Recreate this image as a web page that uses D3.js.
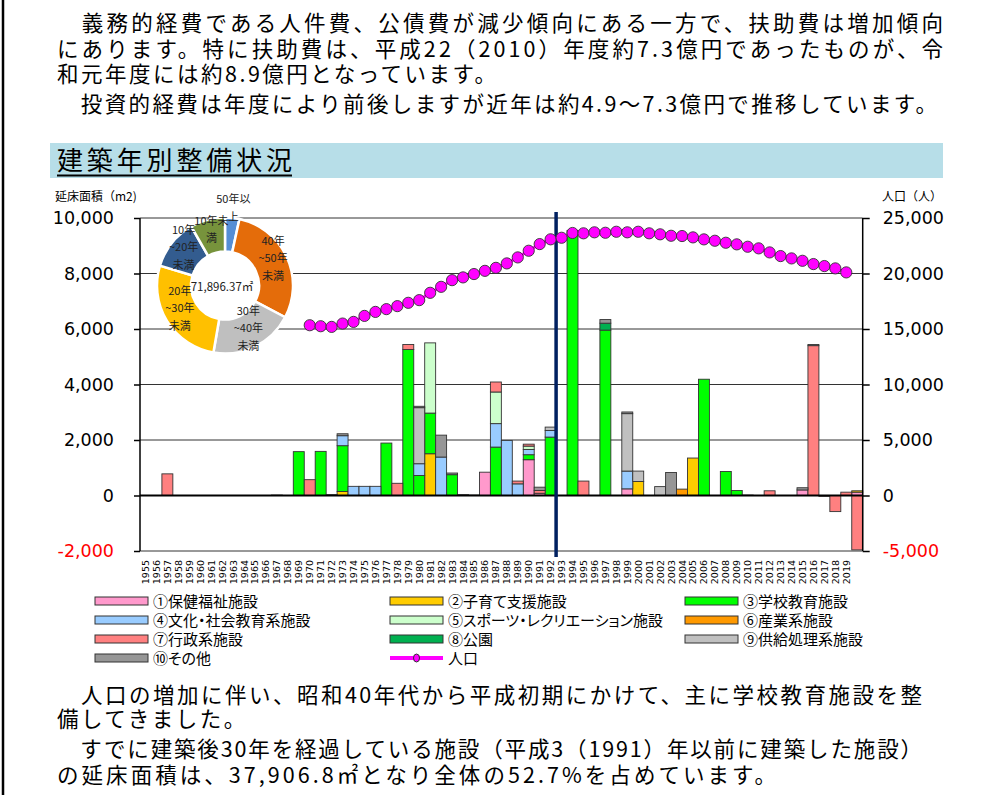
<!DOCTYPE html>
<html>
<head>
<meta charset="utf-8">
<script src="https://cdn.jsdelivr.net/npm/d3@7"></script>
<style>
  body { margin: 0; background: #fff; }
  svg text { font-family: "Noto Sans CJK JP", "Noto Sans", sans-serif; }
  .num { font-family: "DejaVu Sans", Verdana, sans-serif !important; }
  .prop { font-feature-settings: "palt"; }
</style>
</head>
<body>
<svg id="svg" width="985" height="795"></svg>
<script>
// ---- data ----
const categories = ["1955","1956","1957","1958","1959","1960","1961","1962","1963","1964",
  "1965","1966","1967","1968","1969","1970","1971","1972","1973","1974",
  "1975","1976","1977","1978","1979","1980","1981","1982","1983","1984",
  "1985","1986","1987","1988","1989","1990","1991","1992","1993","1994",
  "1995","1996","1997","1998","1999","2000","2001","2002","2003","2004",
  "2005","2006","2007","2008","2009","2010","2011","2012","2013","2014",
  "2015","2016","2017","2018","2019",""];

const seriesNames = ["①保健福祉施設","②子育て支援施設","③学校教育施設","④文化・社会教育系施設",
  "⑤スポーツ・レクリエーション施設","⑥産業系施設","⑦行政系施設","⑧公園","⑨供給処理系施設","⑩その他"];
const seriesColors = ["#FF99CC","#FFCC00","#00FF00","#99CCFF","#CCFFCC","#FF9900","#FF8080","#00B050","#C0C0C0","#969696"];

const s01 = [0,0,0,0,0,0,0,0,0,0, 0,0,0,0,0,0,0,0,0,0, 0,0,0,0,0,0,0,0,0,0,
  0,840,0,0,0,1290,80,0,0,0, 0,0,0,0,240,0,0,0,0,0, 0,0,0,0,0,0,0,0,0,0, 200,0,0,0,0,120];
const s02 = [0,0,0,0,0,0,0,0,0,0, 0,0,0,0,0,0,0,0,145,0, 0,0,0,0,0,0,1505,0,0,0,
  0,0,0,0,0,0,0,0,0,0, 0,0,0,0,0,505,0,0,0,0, 1350,0,0,0,0,0,0,0,0,0, 0,0,0,0,0,50];
const s03 = [0,0,0,0,0,0,0,0,0,0, 0,0,0,0,1580,0,1590,0,1650,0, 0,0,1890,0,5260,720,1465,0,750,0,
  0,0,1745,0,0,180,0,2105,0,9550, 0,0,5960,0,0,0,0,0,0,0, 0,4190,0,865,180,0,0,0,0,0, 0,0,0,0,0,0];
const s04 = [0,0,0,0,0,0,0,0,0,0, 0,0,0,0,0,0,0,0,360,330, 330,330,0,0,0,425,0,1385,0,0,
  0,0,845,1985,420,190,0,240,0,0, 0,0,0,0,640,0,0,0,0,0, 0,0,0,0,0,0,0,0,0,0, 0,0,0,0,0,0];
const s05 = [0,0,0,0,0,0,0,0,0,0, 0,0,0,0,0,0,0,0,0,0, 0,0,0,0,0,0,2530,0,0,0,
  0,0,1140,0,0,120,0,0,0,0, 0,0,0,0,0,0,0,0,0,0, 0,0,0,0,0,0,0,0,0,0, 0,0,0,0,0,0];
const s06 = [0,0,0,0,0,0,0,0,0,0, 0,0,0,0,0,0,0,0,0,0, 0,0,0,0,0,0,0,0,0,0,
  0,0,0,0,0,0,0,0,0,0, 0,0,0,0,0,0,0,0,0,230, 0,0,0,0,0,0,0,0,0,0, 0,0,0,0,0,0];
const s07 = [0,0,780,0,0,0,0,0,0,0, 0,0,0,0,0,570,0,0,0,0, 0,0,0,440,180,0,0,0,0,0,
  0,0,360,0,100,70,100,0,0,0, 520,0,0,0,0,0,0,0,0,0, 0,0,0,0,0,0,0,170,0,0, 0,5400,-30,-580,120,-1960];
const s08 = [0,0,0,0,0,0,0,0,0,0, 0,0,0,0,0,0,0,0,0,0, 0,0,0,0,0,0,0,0,0,0,
  0,0,0,0,0,0,0,0,0,0, 0,0,250,0,0,0,0,0,0,0, 0,0,0,0,0,0,0,0,0,0, 0,0,0,0,0,0];
const s09 = [0,0,0,0,0,0,0,0,0,0, 0,0,0,0,0,0,0,0,0,0, 0,0,0,0,0,2020,0,0,0,0,
  15,0,0,0,0,0,0,120,0,0, 0,0,0,0,2070,375,0,320,0,0, 0,0,0,0,0,15,0,0,0,0, 0,0,0,0,0,0];
const s10 = [0,0,0,0,0,0,0,0,0,0, 0,0,15,0,0,0,0,30,70,0, 0,0,0,0,0,50,0,790,60,30,
  0,0,0,0,0,0,120,0,0,0, 0,0,130,0,60,0,0,0,830,0, 0,0,0,0,0,0,0,0,0,0, 80,40,0,0,0,0];
const seriesValues = [s01,s02,s03,s04,s05,s06,s07,s08,s09,s10];

const popYears = categories.slice(15, 65); // 1970-2019
const population = [15340,15250,15190,15490,15640,16180,16540,16790,17060,17360,
  17600,18260,18800,19400,19650,19950,20240,20510,20910,21450,
  22050,22650,23080,23220,23650,23620,23710,23670,23760,23710,
  23760,23620,23530,23400,23375,23255,23075,22950,22770,22625,
  22410,22265,21900,21570,21360,21145,20850,20670,20460,20100];
const popName = "人口";

const leftTicks = [-2000,0,2000,4000,6000,8000,10000];
const rightTicks = [-5000,0,5000,10000,15000,20000,25000];
const dividerAfter = "1992";

const ageClasses = ["50年以上","40年~50年未満","30年~40年未満","20年~30年未満","10年~20年未満","10年未満"];
const ageLabelLines = [["50年以","上"],["40年","~50年","未満"],["30年","~40年","未満"],["20年","~30年","未満"],["10年","~20年","未満"],["10年未","満"]];
const ageArea = [2450,21080,14377,19410,8630,5950];
const ageColors = ["#558ED5","#E46C0A","#BFBFBF","#FFC000","#335C8F","#77933C"];
const totalAreaLabel = "71,896.37㎡";

const topText = [
  "　義務的経費である人件費、公債費が減少傾向にある一方で、扶助費は増加傾向",
  "にあります。特に扶助費は、平成22（2010）年度約7.3億円であったものが、令",
  "和元年度には約8.9億円となっています。",
  "　投資的経費は年度により前後しますが近年は約4.9～7.3億円で推移しています。"];
const bottomText = [
  "　人口の増加に伴い、昭和40年代から平成初期にかけて、主に学校教育施設を整",
  "備してきました。",
  "　すでに建築後30年を経過している施設（平成3（1991）年以前に建築した施設）",
  "の延床面積は、37,906.8㎡となり全体の52.7%を占めています。"];
const titleText = "建築年別整備状況";

// ---- layout ----
const svg = d3.select("#svg");
const plot = {left: 140, right: 862.7, top: 218, bottom: 551};
const fmt = d => d3.format(",")(d).replace("\u2212", "-");

// page border
svg.append("line").attr("x1", 3).attr("x2", 3).attr("y1", 0).attr("y2", 795)
  .attr("stroke", "#000").attr("stroke-width", 2.5);

// paragraph text
function writeLines(lines, ys, lengths) {
  lines.forEach((t, i) => {
    const el = svg.append("text").attr("x", 57).attr("y", ys[i])
      .attr("font-size", 21.5).attr("fill", "#000").text(t);
    if (lengths[i]) el.attr("textLength", lengths[i]).attr("lengthAdjust", "spacing");
    else el.attr("letter-spacing", 2.5);
  });
}
writeLines(topText, [31, 57, 82, 112], [886, 886, 0, 880]);
writeLines(bottomText, [703, 727, 757, 783], [865, 0, 865, 719]);

// title bar
svg.append("rect").attr("x", 50).attr("y", 143).attr("width", 893).attr("height", 35).attr("fill", "#B7DEE8");
svg.append("text").attr("x", 57).attr("y", 170).attr("font-size", 26)
  .attr("textLength", 235).attr("lengthAdjust", "spacing").text(titleText);
svg.append("line").attr("x1", 57).attr("x2", 292).attr("y1", 175.5).attr("y2", 175.5)
  .attr("stroke", "#000").attr("stroke-width", 2);

// scales
const x = d3.scaleBand().domain(categories).range([plot.left, plot.right]).padding(0);
const yL = d3.scaleLinear().domain([-2000, 10000]).range([plot.bottom, plot.top]);
const yR = d3.scaleLinear().domain([-5000, 25000]).range([plot.bottom, plot.top]);

// gridlines
svg.append("g").selectAll("line").data(leftTicks.filter(d => d !== 0)).join("line")
  .attr("x1", plot.left).attr("x2", plot.right)
  .attr("y1", d => yL(d)).attr("y2", d => yL(d))
  .attr("stroke", "#333").attr("stroke-width", 1);

// stacked bars
const rows = categories.map((c, i) => {
  const o = {cat: c};
  seriesNames.forEach((n, k) => o[n] = seriesValues[k][i]);
  return o;
});
const stacked = d3.stack().keys(seriesNames).offset(d3.stackOffsetDiverging)(rows);
const barG = svg.append("g");
stacked.forEach((layer, k) => {
  barG.append("g").attr("fill", seriesColors[k])
    .selectAll("rect").data(layer.filter(d => d[1] - d[0] !== 0)).join("rect")
    .attr("x", d => x(d.data.cat))
    .attr("width", x.bandwidth())
    .attr("y", d => yL(Math.max(d[0], d[1])))
    .attr("height", d => Math.abs(yL(d[0]) - yL(d[1])))
    .attr("stroke", "#333").attr("stroke-width", 0.9);
});

// zero line
svg.append("line").attr("x1", plot.left).attr("x2", plot.right)
  .attr("y1", yL(0)).attr("y2", yL(0)).attr("stroke", "#000").attr("stroke-width", 2);

// axes
const axL = svg.append("g").attr("transform", `translate(${plot.left},0)`)
  .call(d3.axisLeft(yL).tickValues(leftTicks).tickSize(6).tickPadding(20).tickFormat(fmt));
const axR = svg.append("g").attr("transform", `translate(${plot.right},0)`)
  .call(d3.axisRight(yR).tickValues(rightTicks).tickSize(7).tickPadding(13).tickFormat(fmt));
[axL, axR].forEach(ax => {
  ax.select(".domain").attr("stroke", "#000").attr("stroke-width", 1.5)
    .attr("d", `M0,${plot.top}V${plot.bottom}`);
  ax.selectAll(".tick line").attr("stroke", "#000").attr("stroke-width", 1.5);
  ax.selectAll(".tick text").attr("class", "num").attr("font-size", 17.5)
    .attr("fill", d => d < 0 ? "#FF0000" : "#000");
});

// x labels
svg.append("g").selectAll("text").data(categories).join("text")
  .attr("class", "num").attr("font-size", 9.5).attr("fill", "#000")
  .attr("text-anchor", "end")
  .attr("transform", d => `translate(${x(d) + x.bandwidth() / 2 + 3.5},560) rotate(-90)`)
  .text(d => d);

// axis titles
svg.append("text").attr("x", 55).attr("y", 201).attr("font-size", 12).text("延床面積（m2)");
svg.append("text").attr("x", 882).attr("y", 201).attr("font-size", 12).text("人口（人）");

// divider line
const xDiv = x(dividerAfter) + x.bandwidth();
svg.append("line").attr("x1", xDiv).attr("x2", xDiv)
  .attr("y1", plot.top - 6).attr("y2", plot.bottom + 6)
  .attr("stroke", "#002060").attr("stroke-width", 3.5);

// population line
const popPts = popYears.map((c, i) => ({cat: c, v: population[i]}));
svg.append("path").datum(popPts)
  .attr("fill", "none").attr("stroke", "#FF00FF").attr("stroke-width", 3)
  .attr("d", d3.line().x(d => x(d.cat) + x.bandwidth() / 2).y(d => yR(d.v)));
svg.append("g").selectAll("circle").data(popPts).join("circle")
  .attr("cx", d => x(d.cat) + x.bandwidth() / 2).attr("cy", d => yR(d.v))
  .attr("r", 5.6).attr("fill", "#FF00FF").attr("stroke", "#333").attr("stroke-width", 0.9);

// donut
const dc = {x: 225, y: 285.5, r0: 34, r1: 68};
const donut = svg.append("g").attr("transform", `translate(${dc.x},${dc.y})`);
donut.append("circle").attr("r", dc.r1 + 1).attr("fill", "#fff");
const pie = d3.pie().sort(null).value(d => d)(ageArea);
const arc = d3.arc().innerRadius(dc.r0).outerRadius(dc.r1);
donut.selectAll("path").data(pie).join("path")
  .attr("d", arc).attr("fill", (d, i) => ageColors[i])
  .attr("stroke", "#fff").attr("stroke-width", 2.5);
pie.forEach((p, i) => {
  const small = (p.endAngle - p.startAngle) < 0.35;
  const rl = small ? 78 : 53;
  const a = (p.startAngle + p.endAngle) / 2;
  const cx = Math.sin(a) * rl, cy = -Math.cos(a) * rl + (small ? 0 : -5);
  const lines = ageLabelLines[i];
  const t = donut.append("text").attr("font-size", 11).attr("fill", "#222").attr("text-anchor", "middle");
  lines.forEach((ln, j) => {
    t.append("tspan").attr("x", cx).attr("y", cy + (j - (lines.length - 1) / 2) * 17.5 + 4).text(ln);
  });
});
donut.append("text").attr("x", -3).attr("y", 5.5).attr("font-size", 11.5)
  .attr("fill", "#222").attr("text-anchor", "middle").text(totalAreaLabel);

// legend
const legCols = [95, 390, 685], legRows = [601, 620, 639, 658];
const legItems = seriesNames.map((n, i) => ({name: n, color: seriesColors[i]}))
  .concat([{name: popName, line: true}]);
const leg = svg.append("g");
legItems.forEach((it, i) => {
  const lx = legCols[i % 3], ly = legRows[Math.floor(i / 3)];
  if (it.line) {
    leg.append("line").attr("x1", lx).attr("x2", lx + 53).attr("y1", ly).attr("y2", ly)
      .attr("stroke", "#FF00FF").attr("stroke-width", 4);
    leg.append("ellipse").attr("cx", lx + 26.5).attr("cy", ly).attr("rx", 3).attr("ry", 4)
      .attr("fill", "#FF00FF").attr("stroke", "#333").attr("stroke-width", 1);
  } else {
    leg.append("rect").attr("x", lx).attr("y", ly - 4).attr("width", 53).attr("height", 8)
      .attr("fill", it.color).attr("stroke", "#333").attr("stroke-width", 1);
  }
  leg.append("text").attr("class", "prop").attr("x", lx + 58).attr("y", ly + 5.5).attr("font-size", 15)
    .attr("fill", "#000").text(it.name);
});
</script>
</body>
</html>
